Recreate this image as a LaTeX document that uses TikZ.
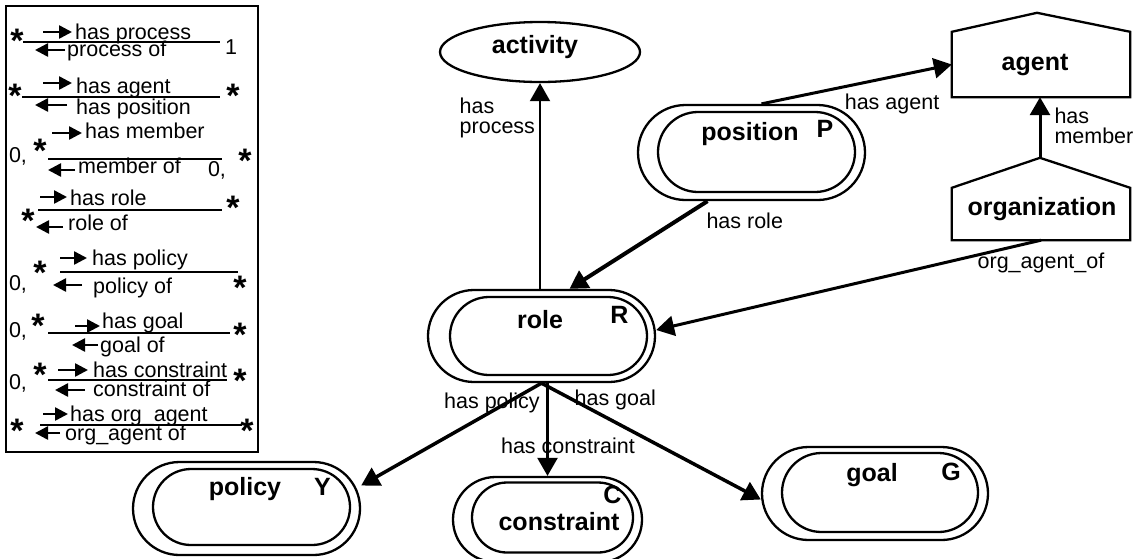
\documentclass[tikz,border=0pt]{standalone}
\usepackage{fontspec}
\setmainfont{Liberation Sans}
\usetikzlibrary{calc, positioning, shapes.misc, shapes.geometric, arrows.meta}

\newcommand{\lblfont}{\fontsize{25}{28}\selectfont\bfseries}
\newcommand{\edgefont}{\fontsize{21.5}{20}\selectfont}
\newcommand{\starfont}{\fontsize{34}{34}\selectfont\bfseries}

\begin{document}
\begin{tikzpicture}[
			x=1pt, y=-1pt,
			outerbox/.style={rounded rectangle, draw, line width=2.3pt, inner sep=0pt, minimum width=227pt, minimum height=93pt},
			innerbox/.style={rounded rectangle, draw, line width=2.3pt, inner sep=0pt, minimum width=197pt, minimum height=78pt},
			housebox/.style={inner sep=0pt, minimum width=178pt},
			lab/.style={font=\lblfont, inner sep=0pt, text height=18pt, text depth=5pt},
			elab/.style={font=\edgefont, inner sep=0pt},
			conn/.style={-{Triangle[length=18pt, width=20pt]}, line width=3.5pt},
			legline/.style={line width=2.5pt},
			legarrow/.style={-{Triangle[length=13pt, width=13pt]}, line width=2.5pt},
			legtext/.style={font=\edgefont, anchor=base west, inner sep=0pt},
			card/.style={font=\edgefont, anchor=base, inner sep=0pt},
			cardstar/.style={font=\starfont, anchor=base, inner sep=0pt},
			]
			\useasboundingbox (0,0) rectangle (1137,558);
			
			% Legende
			\draw[line width=2.8pt] (6,6) rectangle (258,452);
			\node[legtext] (hasproc) at (75,39.5) {has process};
			\node[legtext] (procof) at (67,56) {process of};
			\draw[legline] (23,42) -- (220,42);
			\draw[legarrow] (43,32) -- (72,32);
			\draw[legarrow] (65,50) -- (35,50);
			\node[cardstar] (procl) at (17,52.5) {*};
			\node[card] (procr) at (231,54) {1};
			
			\node[legtext] (hasagent) at (76,93.5) {has agent};
			\node[legtext] (haspos) at (76,114) {has position};
			\draw[legline] (22,97) -- (220,97);
			\draw[legarrow] (43,83) -- (72,83);
			\draw[legarrow] (67,105) -- (35,105);
			\node[cardstar] (agentl) at (15,107.5) {*};
			\node[cardstar] (agentr) at (233,107.5) {*};
			
			\node[legtext] (hasmember) at (85,138.5) {has member};
			\node[legtext] (memberof) at (78,173) {member of};
			\draw[legline] (48,159) -- (222,159);
			\draw[legarrow] (52,133) -- (82,133);
			\draw[legarrow] (75,170) -- (48,170);
			\node[card] (memberl) at (18,162) {0,};
			\node[cardstar] (memberls) at (40,162.5) {*};
			\node[card] (memberr) at (217,176) {0,};
			\node[cardstar] (memberrs) at (245,172.5) {*};
			
			\node[legtext] (hasrole) at (70,205.5) {has role};
			\node[legtext] (roleof) at (68,230) {role of};
			\draw[legline] (38,210) -- (222,210);
			\draw[legarrow] (40,197) -- (67,197);
			\draw[legarrow] (63,227) -- (36,227);
			\node[cardstar] (rolel) at (28,232.5) {*};
			\node[cardstar] (roler) at (233,219.5) {*};
			
			\node[legtext] (haspolicy) at (92,265.5) {has policy};
			\node[legtext] (policyof) at (93,293) {policy of};
			\draw[legline] (60,272) -- (238,272);
			\draw[legarrow] (60,258) -- (87,258);
			\draw[legarrow] (82,285) -- (53,285);
			\node[card] (policyl) at (18,290) {0,};
			\node[cardstar] (policyls) at (40,284.5) {*};
			\node[cardstar] (policyr) at (240,299.5) {*};
			
			\node[legtext] (hasgoal) at (102,328.5) {has goal};
			\node[legtext] (goalof) at (100,352) {goal of};
			\draw[legline] (48,333) -- (230,333);
			\draw[legarrow] (75,326) -- (100,326);
			\draw[legarrow] (98,345) -- (72,345);
			\node[card] (goall) at (18,337) {0,};
			\node[cardstar] (goalls) at (38,337.5) {*};
			\node[cardstar] (goalr) at (240,346.5) {*};
			
			\node[legtext] (hascons) at (93,377) {has constraint};
			\node[legtext] (consof) at (93,396) {constraint of};
			\draw[legline] (48,380) -- (227,380);
			\draw[legarrow] (58,370) -- (88,370);
			\draw[legarrow] (85,390) -- (55,390);
			\node[card] (consl) at (18,389) {0,};
			\node[cardstar] (consls) at (40,386.5) {*};
			\node[cardstar] (consr) at (240,392.5) {*};
			
			\node[legtext] (hasorg) at (70,421) {has org\_agent};
			\node[legtext] (orgof) at (65,440) {org\_agent of};
			\draw[legline] (40,425) -- (242,425);
			\draw[legarrow] (43,414) -- (68,414);
			\draw[legarrow] (60,433) -- (35,433);
			\node[cardstar] (orgl) at (17,442.5) {*};
			\node[cardstar] (orgr) at (247,442.5) {*};
			
			% Konzepte
			\node[draw, ellipse, line width=2.3pt, inner sep=0pt, minimum width=200pt, minimum height=60pt,
			label={[lab, xshift=-5pt, yshift=5pt]center:activity}] (activity) at (540,52) {};
			
			\node[outerbox, minimum height=95pt, label={[lab, xshift=-1.5pt, yshift=19pt]center:position},
			label={[lab, xshift=73.5pt, yshift=22pt]center:P}] (position) at (751.5,152.5) {};
			\node[innerbox, minimum height=80pt] (position-in) at ($(position)+(5,-0.5)$) {};
			
			\node[outerbox, minimum height=92pt, label={[lab, xshift=-1.5pt, yshift=14.5pt]center:role},
			label={[lab, xshift=78pt, yshift=19.5pt]center:R}] (role) at (541.5,336) {};
			\node[innerbox] (role-in) at ($(role)+(7,0)$) {};
			
			\node[outerbox, label={[lab, xshift=-1.5pt, yshift=20pt]center:policy},
			label={[lab, xshift=76pt, yshift=20pt]center:Y}] (policy) at (246.5,508.5) {};
			\node[innerbox, minimum height=76pt] (policy-in) at ($(policy)+(5,-1.5)$) {};
			
			\node[outerbox, minimum width=189pt, minimum height=85pt, label={[lab, xshift=11.5pt, yshift=-4.5pt]center:constraint},
			label={[lab, xshift=65pt, yshift=23pt]center:C}] (constraint) at (547.5,519.5) {};
			\node[innerbox, minimum width=161pt, minimum height=70pt] (constraint-in) at ($(constraint)+(5,-2)$) {};
			
			\node[outerbox, minimum width=226pt, label={[lab, xshift=-3pt, yshift=18.3pt]center:goal},
			label={[lab, xshift=76pt, yshift=20pt]center:G}] (goal) at (875,493.5) {};
			\node[innerbox, minimum width=196pt, minimum height=79pt] (goal-in) at ($(goal)+(5,-1)$) {};
			
			\node[housebox, minimum height=65pt, label={[lab, xshift=-6pt, yshift=1pt]center:agent}] (agent) at (1041,64.5) {};
			\draw[line width=2.3pt] (agent.south west) -- (agent.north west) -- ($(agent.north)+(-4,-19)$)
			-- (agent.north east) -- (agent.south east) -- cycle;
			
			\node[housebox, minimum height=52pt, label={[lab, xshift=1pt, yshift=5.5pt]center:organization}] (org) at (1041,214) {};
			\coordinate (orgtop) at ($(org.north)+(-1,-30)$);
			\draw[line width=2.3pt] (org.south west) -- (org.north west) -- (orgtop)
			-- (org.north east) -- (org.south east) -- cycle;
			
			% Beziehungen
			\path
			(role.north -| activity.south) edge[conn, line width=2pt] node[elab, pos=0.83, left=4pt, align=left] {has\\process} (activity.south)
			([xshift=10pt]position.north) edge[conn, line width=3pt] node[elab, pos=0.43, anchor=north west, yshift=-5pt] {has agent} (agent.west)
			([xshift=-44pt]position.south) edge[conn, line width=4pt] node[elab, pos=0, anchor=north west, xshift=-3pt, yshift=-10pt] {has role} ([xshift=28pt]role.north)
			(orgtop) edge[conn, line width=3pt] node[elab, pos=0.52, right=13pt, align=left] {has\\member} (orgtop |- agent.south)
			(org.south) edge[conn, line width=3pt] node[elab, pos=0, below=11pt] {org\_agent\_of} ([yshift=6pt]role.east)
			(role.south) edge[conn] node[elab, pos=0, anchor=north east, yshift=-8pt] {has policy} ([yshift=23pt]policy.east)
			(role.south -| constraint.north) edge[conn, line width=2.5pt] node[elab, pos=0.68, xshift=20.5pt] {has constraint} (constraint.north)
			(role.south) edge[conn] node[elab, pos=0.143, anchor=west] {has goal} ([yshift=-6pt]goal.west)
			;
			
		\end{tikzpicture}
\end{document}
